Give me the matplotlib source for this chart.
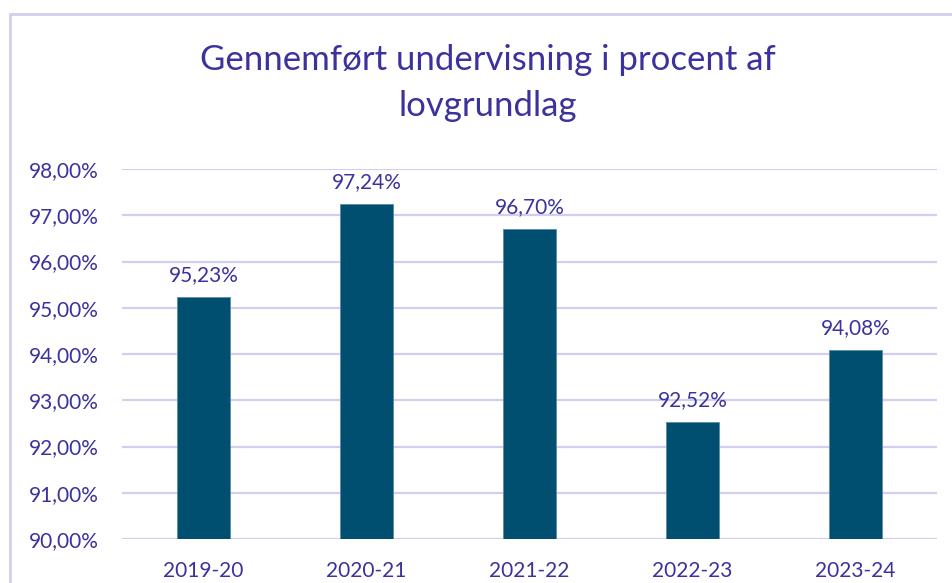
import matplotlib.pyplot as plt
from matplotlib.patches import Rectangle

years = ["2019-20", "2020-21", "2021-22", "2022-23", "2023-24"]
values = [95.23, 97.24, 96.70, 92.52, 94.08]
yticks = [90, 91, 92, 93, 94, 95, 96, 97, 98]

txt_col = "#3B329E"
bar_col = "#004F71"
grid_col = "#D2CEF0"

plt.rcParams['font.family'] = ['Lato', 'DejaVu Sans']

W, H = 952, 583
fig = plt.figure(figsize=(W / 100, H / 100), dpi=100)
ax = fig.add_axes([122 / W, 1 - 539 / H, (937 - 122) / W, (539 - 169) / H])

x = range(len(years))
ax.bar(x, values, width=0.32, color=bar_col, edgecolor="#5C8CA3", linewidth=0.6, zorder=3)
ax.set_ylim(90, 98)
ax.set_xlim(-0.5, len(years) - 0.5)
ax.set_yticks(yticks)
ax.set_yticklabels([f"{t:.2f}".replace(".", ",") + "%" for t in yticks])
ax.set_xticks(list(x))
ax.set_xticklabels(years)
ax.tick_params(axis="both", length=0, labelsize=15, colors=txt_col)
ax.tick_params(axis="y", pad=17)
ax.tick_params(axis="x", pad=16)
ax.grid(axis="y", color=grid_col, linewidth=1.6, zorder=0)
for s in ax.spines.values():
    s.set_visible(False)

for i, v in enumerate(values):
    ax.annotate(f"{v:.2f}".replace(".", ",") + "%", (i, v), xytext=(0, 9),
                textcoords="offset points", ha="center", va="bottom",
                fontsize=15, color=txt_col)

fig.text(488 / W, 1 - 83 / H, "Gennemført undervisning i procent af\nlovgrundlag",
         ha="center", va="center", fontsize=25, color=txt_col, linespacing=1.5)

fig.patches.append(Rectangle((10 / W, -0.1), 1.2, 1 - 14 / H + 0.1, transform=fig.transFigure,
                             fill=False, edgecolor=grid_col, linewidth=2))

fig.savefig("out.png", dpi=100)
